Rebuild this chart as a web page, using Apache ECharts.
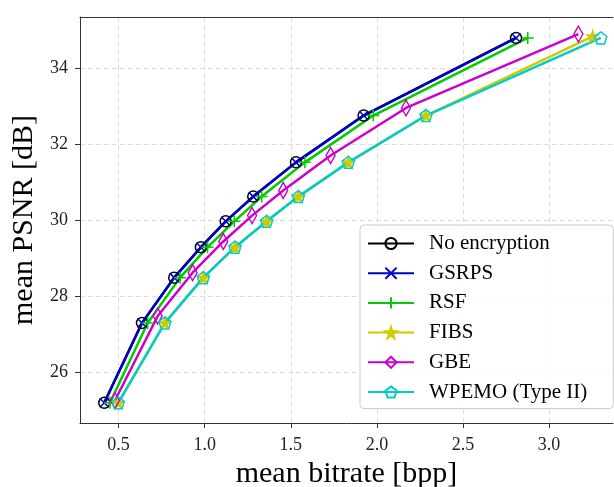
<!DOCTYPE html>
<html>
<head>
<meta charset="utf-8">
<script src="https://cdn.jsdelivr.net/npm/echarts@6/dist/echarts.min.js"></script>
<style>
  html, body { margin: 0; padding: 0; background: #fff; }
  #chart { width: 614px; height: 487px; }
</style>
</head>
<body>
<div id="chart"></div>
<script>
// values
const psnr = [25.2, 27.3, 28.49, 29.29, 29.97, 30.62, 31.52, 32.75, 34.79];
const bppNoEnc = [0.417, 0.636, 0.823, 0.978, 1.122, 1.282, 1.53, 1.923, 2.808];
const bppGsrps = [0.417, 0.636, 0.823, 0.978, 1.122, 1.282, 1.53, 1.923, 2.808];
const bppRsf = [0.45, 0.669, 0.857, 1.017, 1.172, 1.331, 1.582, 1.979, 2.876];
const bppFibs = [0.498, 0.769, 0.992, 1.176, 1.36, 1.544, 1.834, 2.285, 3.253];
const psnrFibs = [25.2, 27.3, 28.49, 29.29, 29.97, 30.62, 31.52, 32.75, 34.83];
const bppGbe = [0.479, 0.727, 0.93, 1.108, 1.275, 1.456, 1.731, 2.169, 3.17];
const psnrGbe = [25.26, 27.48, 28.62, 29.44, 30.12, 30.78, 31.7, 32.95, 34.89];
const bppWpemo = [0.498, 0.769, 0.992, 1.176, 1.36, 1.544, 1.834, 2.285, 3.3];

const xTicks = [0.5, 1.0, 1.5, 2.0, 2.5, 3.0];
const yTicks = [26, 28, 30, 32, 34];

const FONT = "'Liberation Serif', 'DejaVu Serif', serif";

const starPath = 'path://M10,0L12.245,6.91L19.51,6.91L13.633,11.18L15.88,18.09L10,13.82L4.12,18.09L6.367,11.18L0.49,6.91L7.755,6.91Z';
const pentPath = 'path://M10,0L19.51,6.91L15.88,18.09L4.12,18.09L0.49,6.91Z';

function zip(xs, ys) {
  return xs.map((x, i) => [x, ys[i]]);
}

function makeSeries(name, data, color, symbol, size, filled) {
  return {
    name: name,
    type: 'line',
    data: data,
    symbol: symbol,
    symbolSize: size,
    showAllSymbol: true,
    lineStyle: { color: color, width: 2.5 },
    itemStyle: {
      color: filled ? color : 'rgba(0,0,0,0)',
      borderColor: color,
      borderWidth: 1.5,
    },
    emphasis: { disabled: true },
    animation: false,
  };
}

const gridLine = { show: true, lineStyle: { color: '#ddd', type: [5, 3], width: 1 } };

const chart = echarts.init(document.getElementById('chart'));
chart.setOption({
  backgroundColor: '#fff',
  textStyle: { fontFamily: FONT },
  // plot box runs past the right edge of the picture, so max is cut where the canvas ends
  grid: { left: 80, top: 17, right: 1, bottom: 64, containLabel: false, outerBoundsMode: 'none' },
  xAxis: [
    {
      type: 'value',
      min: 0.276,
      max: 3.371,
      name: 'mean bitrate [bpp]',
      nameLocation: 'middle',
      nameGap: 33,
      nameTextStyle: { fontFamily: FONT, fontSize: 30, color: '#000' },
      axisLine: { show: true, onZero: false, lineStyle: { color: '#333', width: 1 } },
      axisTick: { show: true, length: 5, customValues: xTicks, lineStyle: { color: '#333' } },
      axisLabel: {
        customValues: xTicks,
        formatter: v => v.toFixed(1),
        fontFamily: FONT, fontSize: 18, color: '#222', margin: 13,
      },
      splitLine: gridLine,
    },
    {
      // top spine
      type: 'value',
      position: 'top',
      min: 0.276,
      max: 3.371,
      axisLine: { show: true, onZero: false, lineStyle: { color: '#333', width: 1 } },
      axisTick: { show: false },
      axisLabel: { show: false },
      splitLine: { show: false },
    },
  ],
  yAxis: {
    type: 'value',
    min: 24.67,
    max: 35.34,
    name: 'mean PSNR [dB]',
    nameLocation: 'middle',
    nameGap: 24,
    nameTextStyle: { fontFamily: FONT, fontSize: 30, color: '#000' },
    axisLine: { show: true, lineStyle: { color: '#333', width: 1 } },
    axisTick: { show: true, length: 5, customValues: yTicks, lineStyle: { color: '#333' } },
    axisLabel: {
      customValues: yTicks,
      fontFamily: FONT, fontSize: 18, color: '#222', margin: 12,
    },
    splitLine: gridLine,
  },
  legend: {
    orient: 'vertical',
    left: 360,
    top: 225,
    padding: [8, 26, 6, 7],
    itemWidth: 46,
    itemHeight: 14,
    itemGap: 8.7,
    backgroundColor: 'rgba(255,255,255,0.85)',
    borderColor: '#ccc',
    borderWidth: 1,
    borderRadius: 4,
    textStyle: { fontFamily: FONT, fontSize: 21, color: '#000', lineHeight: 20, padding: [0, 0, 0, 10] },
    data: ['No encryption', 'GSRPS', 'RSF', 'FIBS', 'GBE', 'WPEMO (Type II)'],
  },
  series: [
    makeSeries('No encryption', zip(bppNoEnc, psnr), '#000000', 'circle', 11, false),
    makeSeries('GSRPS', zip(bppGsrps, psnr), '#0000cc', 'path://M0,0L10,10M10,0L0,10', 9, false),
    makeSeries('RSF', zip(bppRsf, psnr), '#00cc00', 'path://M5,0L5,10M0,5L10,5', 12, false),
    makeSeries('FIBS', zip(bppFibs, psnrFibs), '#cccc00', starPath, 11, true),
    makeSeries('GBE', zip(bppGbe, psnrGbe), '#cc00cc', 'path://M3,0L6,5L3,10L0,5Z', [9, 16], false),
    makeSeries('WPEMO (Type II)', zip(bppWpemo, psnr), '#00cccc', pentPath, 12, false),
  ],
});
</script>
</body>
</html>
